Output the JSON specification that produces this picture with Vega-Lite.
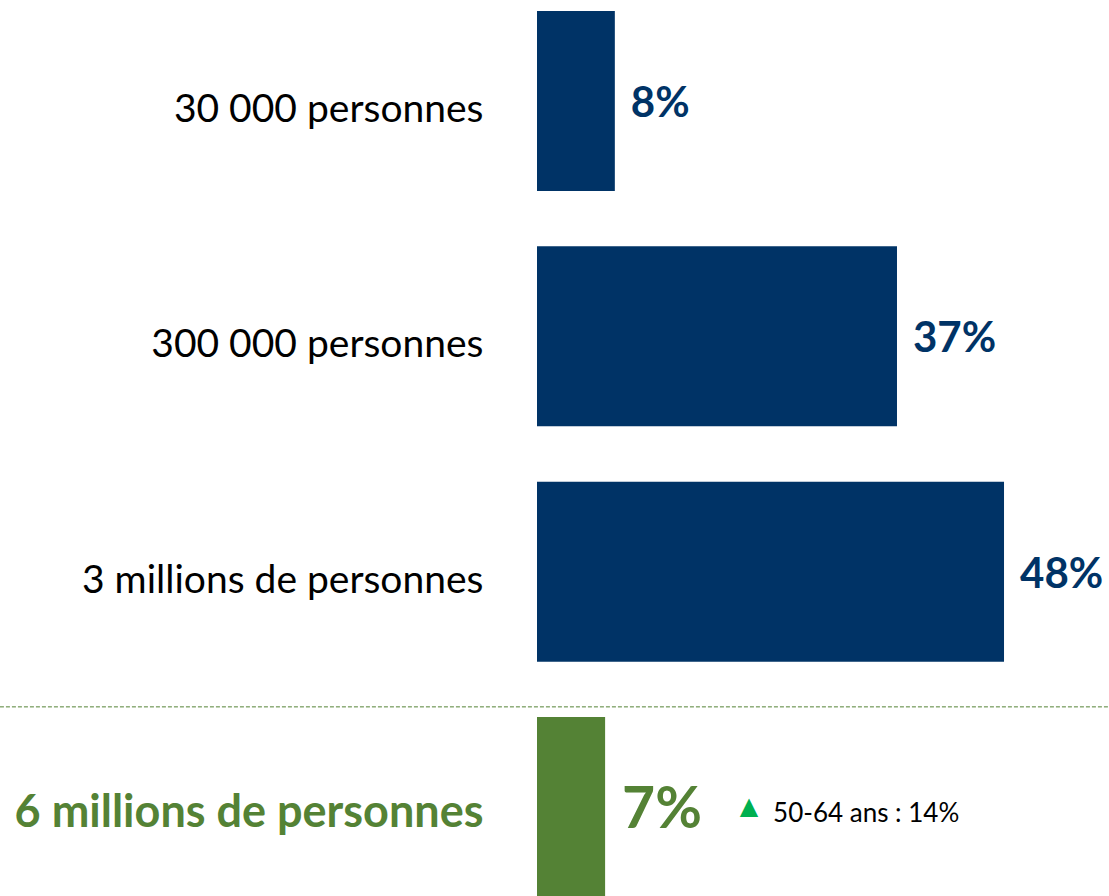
{
  "$schema": "https://vega.github.io/schema/vega-lite/v6.json",
  "autosize": {"type": "none"},
  "padding": {"left": 537, "top": 0, "right": 0, "bottom": 0},
  "width": 572,
  "height": 908,
  "background": "white",
  "config": {"view": {"stroke": null}},
  "data": {"values": [
    {"cat": "30 000 personnes", "value": 0.08, "grp": "pop"},
    {"cat": "300 000 personnes", "value": 0.37, "grp": "pop"},
    {"cat": "3 millions de personnes", "value": 0.48, "grp": "pop"},
    {"cat": "6 millions de personnes", "value": 0.07, "grp": "total", "note": "50-64 ans : 14%"}
  ]},
  "encoding": {
    "y": {
      "field": "cat", "type": "nominal", "sort": null,
      "scale": {"paddingInner": 0.235, "paddingOuter": 0.047},
      "axis": {
        "title": null, "domain": false, "ticks": false, "labelPadding": 54,
        "labelLimit": 600, "labelFont": "Lato",
        "labelOffset": {"condition": {"test": "datum.value == '6 millions de personnes'", "value": 6}, "value": 9},
        "labelFontSize": {"condition": {"test": "datum.value == '6 millions de personnes'", "value": 45}, "value": 39},
        "labelFontWeight": {"condition": {"test": "datum.value == '6 millions de personnes'", "value": "bold"}, "value": "normal"},
        "labelColor": {"condition": {"test": "datum.value == '6 millions de personnes'", "value": "#548235"}, "value": "#000000"}
      }
    }
  },
  "layer": [
    {
      "mark": {"type": "bar"},
      "encoding": {
        "x": {"field": "value", "type": "quantitative", "scale": {"domain": [0, 0.5879], "nice": false, "zero": true}, "axis": null},
        "color": {"field": "grp", "type": "nominal", "scale": {"domain": ["pop", "total"], "range": ["#003366", "#548235"]}, "legend": null}
      }
    },
    {
      "transform": [{"filter": "datum.grp == 'total'"}],
      "mark": {"type": "rule", "color": "#548235", "strokeWidth": 1, "strokeDash": [4, 2]},
      "encoding": {
        "y": {"field": "cat", "type": "nominal", "sort": null, "bandPosition": -0.056},
        "x": {"datum": -0.552},
        "x2": {"datum": 0.5879}
      }
    },
    {
      "transform": [{"filter": "datum.grp == 'pop'"}],
      "mark": {"type": "text", "align": "left", "baseline": "middle", "dx": 16, "dy": 3, "font": "Lato", "fontWeight": "bold", "fontSize": 42, "color": "#003366"},
      "encoding": {
        "x": {"field": "value", "type": "quantitative"},
        "text": {"field": "value", "type": "quantitative", "format": ".0%"}
      }
    },
    {
      "transform": [{"filter": "datum.grp == 'total'"}],
      "mark": {"type": "text", "align": "left", "baseline": "middle", "dx": 17, "dy": 4, "font": "Lato", "fontWeight": "bold", "fontSize": 57, "color": "#548235"},
      "encoding": {
        "x": {"field": "value", "type": "quantitative"},
        "text": {"field": "value", "type": "quantitative", "format": ".0%"}
      }
    },
    {
      "transform": [{"filter": "datum.grp == 'total'"}],
      "mark": {"type": "text", "text": "▲", "align": "center", "baseline": "middle", "dx": 144, "dy": 0, "font": "DejaVu Sans", "fontSize": 24, "color": "#00B050"},
      "encoding": {
        "x": {"field": "value", "type": "quantitative"}
      }
    },
    {
      "transform": [{"filter": "datum.grp == 'total'"}],
      "mark": {"type": "text", "align": "left", "baseline": "middle", "dx": 168, "dy": 7, "font": "Lato", "fontSize": 26, "color": "#000000"},
      "encoding": {
        "x": {"field": "value", "type": "quantitative"},
        "text": {"field": "note", "type": "nominal"}
      }
    }
  ]
}
